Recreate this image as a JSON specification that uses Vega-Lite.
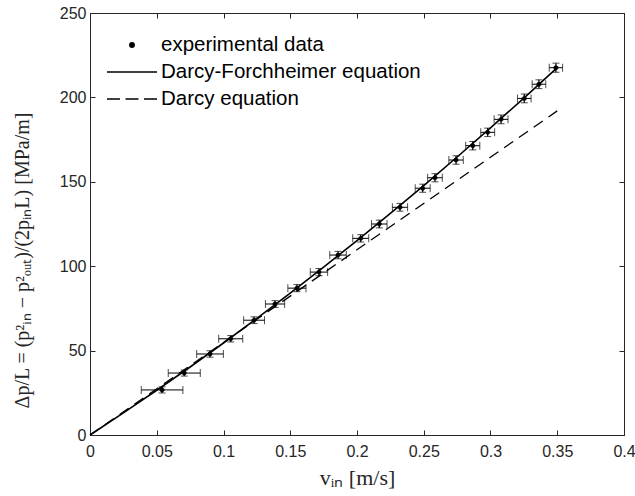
{
  "$schema": "https://vega.github.io/schema/vega-lite/v6.json",
  "width": 534,
  "height": 422,
  "autosize": {"type": "none"},
  "padding": {"left": 90, "top": 13, "right": 11, "bottom": 61},
  "background": "white",
  "config": {
    "view": {"stroke": "#262626", "strokeWidth": 1},
    "axis": {
      "grid": false,
      "domainColor": "#262626",
      "tickColor": "#262626",
      "labelColor": "#262626",
      "labelFont": "Liberation Sans",
      "labelFontSize": 16,
      "tickSize": -5,
      "titleFont": "Liberation Serif",
      "titleFontWeight": "normal",
      "titleColor": "#262626",
      "titleFontSize": 18
    }
  },
  "datasets": {
    "measured": [
      {"v": 0.054, "verr": 0.0156, "p": 26.7, "perr": 1.8},
      {"v": 0.0706, "verr": 0.012, "p": 36.7, "perr": 1.8},
      {"v": 0.0899, "verr": 0.010, "p": 48.0, "perr": 1.9},
      {"v": 0.1054, "verr": 0.009, "p": 57.0, "perr": 1.9},
      {"v": 0.1229, "verr": 0.0078, "p": 68.0, "perr": 2.0},
      {"v": 0.1386, "verr": 0.0072, "p": 77.6, "perr": 2.0},
      {"v": 0.155, "verr": 0.0068, "p": 87.0, "perr": 2.1},
      {"v": 0.1715, "verr": 0.0065, "p": 96.5, "perr": 2.1},
      {"v": 0.1858, "verr": 0.0062, "p": 106.6, "perr": 2.2},
      {"v": 0.2028, "verr": 0.006, "p": 116.5, "perr": 2.2},
      {"v": 0.2167, "verr": 0.0058, "p": 125.0, "perr": 2.3},
      {"v": 0.2322, "verr": 0.0057, "p": 134.9, "perr": 2.3},
      {"v": 0.2492, "verr": 0.0056, "p": 146.2, "perr": 2.4},
      {"v": 0.2584, "verr": 0.0055, "p": 152.4, "perr": 2.4},
      {"v": 0.2742, "verr": 0.0054, "p": 162.9, "perr": 2.5},
      {"v": 0.2867, "verr": 0.0053, "p": 171.4, "perr": 2.5},
      {"v": 0.2979, "verr": 0.0052, "p": 179.3, "perr": 2.5},
      {"v": 0.3079, "verr": 0.0052, "p": 187.0, "perr": 2.6},
      {"v": 0.3253, "verr": 0.0051, "p": 199.4, "perr": 2.6},
      {"v": 0.3363, "verr": 0.0051, "p": 207.8, "perr": 2.6},
      {"v": 0.349, "verr": 0.005, "p": 217.6, "perr": 2.7}
    ],
    "forch": [
      {"v": 0, "p": 0},
      {"v": 0.025, "p": 13.1},
      {"v": 0.05, "p": 26.5},
      {"v": 0.075, "p": 40.3},
      {"v": 0.1, "p": 54.5},
      {"v": 0.125, "p": 69.1},
      {"v": 0.15, "p": 84.1},
      {"v": 0.175, "p": 99.5},
      {"v": 0.2, "p": 115.2},
      {"v": 0.225, "p": 131.3},
      {"v": 0.25, "p": 147.8},
      {"v": 0.275, "p": 164.7},
      {"v": 0.3, "p": 182.0},
      {"v": 0.325, "p": 199.6},
      {"v": 0.35, "p": 217.6}
    ],
    "darcy": [
      {"v": 0, "p": 0},
      {"v": 0.35, "p": 192}
    ]
  },
  "layer": [
    {
      "data": {"name": "forch"},
      "mark": {"type": "line", "color": "black", "strokeWidth": 1.6},
      "encoding": {
        "x": {
          "field": "v", "type": "quantitative",
          "scale": {"domain": [0, 0.4], "nice": false},
          "axis": {"orient": "bottom", "values": [0, 0.05, 0.1, 0.15, 0.2, 0.25, 0.3, 0.35, 0.4], "format": "~g", "labelPadding": 13, "title": "vᵢₙ [m/s]", "titleFontSize": 22, "titlePadding": 8, "labelFlush": false}
        },
        "y": {
          "field": "p", "type": "quantitative",
          "scale": {"domain": [0, 250], "nice": false},
          "axis": {"orient": "left", "values": [0, 50, 100, 150, 200, 250], "labelPadding": 9, "title": "Δp/L = (p²ᵢₙ − p²ₒᵤₜ)/(2pᵢₙL)  [MPa/m]", "titleFontSize": 20, "titleX": -58, "titleY": 247, "titleAlign": "center", "labelFlush": false}
        }
      }
    },
    {
      "data": {"name": "darcy"},
      "mark": {"type": "line", "color": "black", "strokeWidth": 1.3, "strokeDash": [11, 7]},
      "encoding": {
        "x": {"field": "v", "type": "quantitative", "scale": {"domain": [0, 0.4], "nice": false}, "axis": null},
        "y": {"field": "p", "type": "quantitative", "scale": {"domain": [0, 250], "nice": false}, "axis": null}
      }
    },
    {
      "data": {"name": "measured"},
      "mark": {"type": "errorbar", "color": "black", "ticks": {"size": 8, "color": "black"}, "rule": {"strokeWidth": 1}},
      "encoding": {
        "x": {"field": "v", "type": "quantitative", "scale": {"domain": [0, 0.4], "nice": false}, "axis": null},
        "xError": {"field": "verr"},
        "y": {"field": "p", "type": "quantitative", "scale": {"domain": [0, 250], "nice": false}, "axis": null}
      }
    },
    {
      "data": {"name": "measured"},
      "mark": {"type": "errorbar", "color": "black", "ticks": {"size": 7, "color": "black"}, "rule": {"strokeWidth": 1.2}},
      "encoding": {
        "y": {"field": "p", "type": "quantitative", "scale": {"domain": [0, 250], "nice": false}, "axis": null},
        "yError": {"field": "perr"},
        "x": {"field": "v", "type": "quantitative", "scale": {"domain": [0, 0.4], "nice": false}, "axis": null}
      }
    },
    {
      "data": {"name": "measured"},
      "transform": [{"calculate": "'experimental data'", "as": "series"}],
      "mark": {"type": "point", "filled": true, "fill": "black", "stroke": "black", "strokeWidth": 0.5, "opacity": 1, "size": 400},
      "encoding": {
        "x": {
          "field": "v", "type": "quantitative",
          "scale": {"domain": [0, 0.4], "nice": false},
          "axis": {"orient": "top", "values": [0, 0.05, 0.1, 0.15, 0.2, 0.25, 0.3, 0.35, 0.4], "labels": false, "title": null}
        },
        "y": {
          "field": "p", "type": "quantitative",
          "scale": {"domain": [0, 250], "nice": false},
          "axis": {"orient": "right", "values": [0, 50, 100, 150, 200, 250], "labels": false, "title": null}
        },
        "shape": {
          "field": "series", "type": "nominal",
          "scale": {
            "domain": ["experimental data", "Darcy-Forchheimer equation", "Darcy equation"],
            "range": [
              "M-0.22,0A0.22,0.22,0,1,1,0.22,0A0.22,0.22,0,1,1,-0.22,0Z",
              "M-2.5,0H2.5",
              "M-2.5,0H-1.2M-0.65,0H0.65M1.2,0H2.5"
            ]
          },
          "legend": {
            "orient": "none",
            "legendX": 31,
            "legendY": 21,
            "title": null,
            "padding": 0,
            "labelFont": "Liberation Sans",
            "labelFontSize": 20.5,
            "labelColor": "black",
            "labelOffset": 18,
            "symbolSize": 400,
            "rowPadding": 5,
            "labelLimit": 400,
            "encode": {
              "symbols": {
                "update": {
                  "stroke": {"value": "black"},
                  "strokeWidth": {"value": 1.5},
                  "fill": {"value": "black"},
                  "opacity": {"value": 1}
                }
              }
            }
          }
        }
      }
    }
  ],
  "resolve": {"axis": {"x": "independent", "y": "independent"}}
}
